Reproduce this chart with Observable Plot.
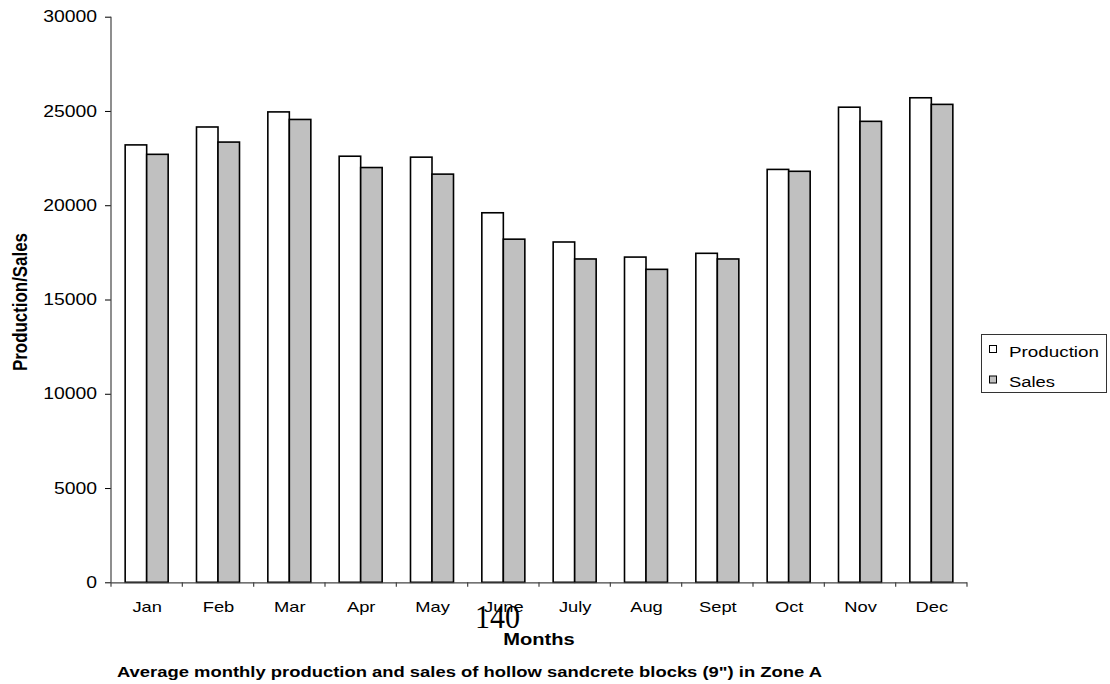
<!DOCTYPE html>
<html>
<head>
<meta charset="utf-8">
<script src="https://cdn.jsdelivr.net/npm/d3@7"></script>
<script src="https://cdn.jsdelivr.net/npm/@observablehq/plot@0.6"></script>
<style>
  html, body { margin: 0; padding: 0; background: #ffffff; }
  #chart svg { display: block; }
</style>
</head>
<body>
<div id="chart"></div>
<script>
// Monthly averages for 9" hollow sandcrete blocks, Zone A
const months = ["Jan", "Feb", "Mar", "Apr", "May", "June", "July", "Aug", "Sept", "Oct", "Nov", "Dec"];
const production = [23200, 24150, 24950, 22600, 22550, 19600, 18050, 17250, 17450, 21900, 25200, 25700];
const sales = [22700, 23350, 24550, 22000, 21650, 18200, 17150, 16600, 17150, 21800, 24450, 25350];
const seriesNames = ["Production", "Sales"];
const yTicks = [0, 5000, 10000, 15000, 20000, 25000, 30000];
const xLabel = "Months";
const yLabel = "Production/Sales";
const captionText = "Average monthly production and sales of hollow sandcrete blocks (9\") in Zone A";
const pageNumber = "140";

// Styling
const fills = {Production: "#ffffff", Sales: "#c0c0c0"};
const axisColor = "#444";
const sansFont = "'Liberation Sans', Arial, Helvetica, sans-serif";

const rows = months.flatMap((m, i) => [
  {month: m, series: seriesNames[0], value: production[i]},
  {month: m, series: seriesNames[1], value: sales[i]}
]);

const W = 1110, H = 684;
const margin = {top: 16.7, right: 143, bottom: 101.7, left: 111};
const band = (W - margin.left - margin.right) / months.length;
const barW = 21.5;
const gap = (band - 2 * barW) / 2;

const plot = Plot.plot({
  width: W,
  height: H,
  marginTop: margin.top,
  marginRight: margin.right,
  marginBottom: margin.bottom,
  marginLeft: margin.left,
  style: {fontFamily: sansFont, fontSize: "15px", background: "#ffffff", color: "#000", overflow: "visible"},
  x: {type: "band", domain: months, padding: 0, round: false, label: null, tickSize: 0, tickPadding: 18.5},
  y: {domain: [0, 30000], ticks: yTicks, tickSize: 6, tickPadding: 8.5, label: null, tickFormat: d3.format("d")},
  marks: [
    Plot.barY(rows.filter(d => d.series === seriesNames[0]), {
      x: "month", y: "value", fill: fills.Production, stroke: "#000", strokeWidth: 1.6,
      insetLeft: gap, insetRight: gap + barW
    }),
    Plot.barY(rows.filter(d => d.series === seriesNames[1]), {
      x: "month", y: "value", fill: fills.Sales, stroke: "#000", strokeWidth: 1.6,
      insetLeft: gap + barW, insetRight: gap
    }),
    Plot.ruleY([0], {stroke: axisColor, strokeWidth: 1.2})
  ]
});

document.getElementById("chart").appendChild(plot);

const svg = d3.select(plot.tagName.toLowerCase() === "svg" ? plot : plot.querySelector("svg"));
const xs = plot.scale("x");
const ys = plot.scale("y");
const xBand = d3.scaleBand(xs.domain, xs.range).padding(0);
const yPos = v => (ys.apply ? ys.apply(v) : d3.scaleLinear(ys.domain, ys.range)(v));

// Widen tick labels horizontally
function stretch(sel, factor, size) {
  sel.each(function () {
    if (size) this.setAttribute("font-size", size);
    this.style.fontSize = size || null;
    const len = this.getComputedTextLength();
    this.setAttribute("textLength", (len * factor).toFixed(2));
    this.setAttribute("lengthAdjust", "spacingAndGlyphs");
  });
}
stretch(svg.selectAll("[aria-label^='y-axis'] text"), 1.21, "16px");
stretch(svg.selectAll("[aria-label^='x-axis'] text"), 1.22, "15px");

// Axis lines and boundary ticks between month groups
const x0 = xBand.range()[0], x1 = xBand.range()[1];
const g = svg.append("g").attr("stroke", axisColor).attr("stroke-width", 1.2);
g.append("line").attr("x1", x0).attr("x2", x0).attr("y1", yPos(30000)).attr("y2", yPos(0));
const edges = months.map(m => xBand(m)).concat([x1]);
g.selectAll("line.edge").data(edges).join("line")
  .attr("class", "edge")
  .attr("x1", d => d).attr("x2", d => d)
  .attr("y1", yPos(0)).attr("y2", yPos(0) + 4.5);

// Axis titles, page number and caption
const y0 = yPos(0);
svg.append("text")
  .attr("transform", `translate(26.5,${(yPos(30000) + y0) / 2 + 2.5}) rotate(-90) scale(1,1.2)`)
  .attr("text-anchor", "middle")
  .attr("font-family", sansFont).attr("font-weight", "bold").attr("font-size", "16.5px")
  .attr("textLength", 138).attr("lengthAdjust", "spacingAndGlyphs")
  .text(yLabel);

svg.append("text")
  .attr("x", 497.5).attr("y", 627.5)
  .attr("text-anchor", "middle")
  .attr("font-family", "'Liberation Serif', 'Times New Roman', serif").attr("font-size", "34px")
  .attr("textLength", 45).attr("lengthAdjust", "spacingAndGlyphs")
  .text(pageNumber);

svg.append("text")
  .attr("x", (x0 + x1) / 2).attr("y", 645)
  .attr("text-anchor", "middle")
  .attr("font-family", sansFont).attr("font-weight", "bold").attr("font-size", "16.5px")
  .attr("textLength", 71.5).attr("lengthAdjust", "spacingAndGlyphs")
  .text(xLabel);

svg.append("text")
  .attr("x", 117).attr("y", 677)
  .attr("text-anchor", "start")
  .attr("font-family", sansFont).attr("font-weight", "bold").attr("font-size", "15.5px")
  .attr("textLength", 705).attr("lengthAdjust", "spacingAndGlyphs")
  .text(captionText);

// Legend box
const lg = svg.append("g").attr("font-family", sansFont).attr("font-size", "15.5px").attr("text-anchor", "start");
lg.append("rect")
  .attr("x", 981.5).attr("y", 334.5).attr("width", 125).attr("height", 58)
  .attr("fill", "#fff").attr("stroke", "#333").attr("stroke-width", 1);
const legendBase = [356.5, 387];
const legendLen = [90, 46];
seriesNames.forEach((name, i) => {
  lg.append("rect")
    .attr("x", 989.5).attr("y", legendBase[i] - 11).attr("width", 7).attr("height", 7)
    .attr("fill", fills[name]).attr("stroke", "#000").attr("stroke-width", 1);
  lg.append("text")
    .attr("x", 1009).attr("y", legendBase[i])
    .attr("text-anchor", "start")
    .attr("textLength", legendLen[i]).attr("lengthAdjust", "spacingAndGlyphs")
    .text(name);
});
</script>
</body>
</html>
